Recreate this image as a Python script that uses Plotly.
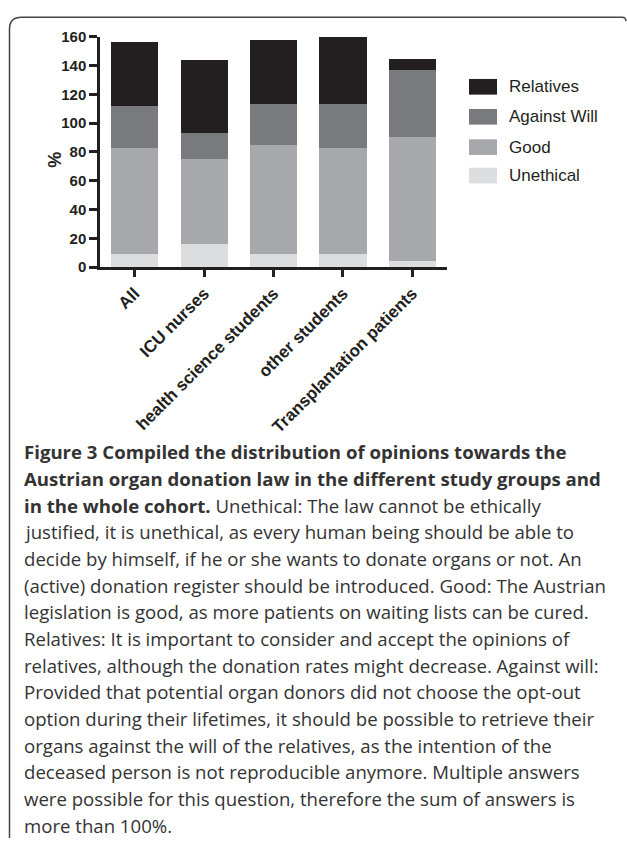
import plotly.graph_objects as go

W, H = 627, 844

# ---- data ----
categories = ["All", "ICU nurses", "health science students", "other students", "Transplantation patients"]
unethical = [9, 16, 9, 9, 4.5]
good = [74, 59, 75.5, 74, 86]
against_will = [28.5, 18, 29, 30, 46.5]
relatives = [44.5, 50.5, 44.5, 46.5, 7.5]
series_names = ["Unethical", "Good", "Against Will", "Relatives"]
series_values = [unethical, good, against_will, relatives]
colors = ["#dcdddf", "#a7a8ab", "#797a7e", "#231f20"]
y_ticks = [0, 20, 40, 60, 80, 100, 120, 140, 160]

caption_lines = [
    "<b>Figure 3 Compiled the distribution of opinions towards the</b>",
    "<b>Austrian organ donation law in the different study groups and</b>",
    "<b>in the whole cohort.</b> Unethical: The law cannot be ethically",
    "justified, it is unethical, as every human being should be able to",
    "decide by himself, if he or she wants to donate organs or not. An",
    "(active) donation register should be introduced. Good: The Austrian",
    "legislation is good, as more patients on waiting lists can be cured.",
    "Relatives: It is important to consider and accept the opinions of",
    "relatives, although the donation rates might decrease. Against will:",
    "Provided that potential organ donors did not choose the opt-out",
    "option during their lifetimes, it should be possible to retrieve their",
    "organs against the will of the relatives, as the intention of the",
    "deceased person is not reproducible anymore. Multiple answers",
    "were possible for this question, therefore the sum of answers is",
    "more than 100%.",
]


def px(x):
    return x / W


def py(y):
    return 1 - y / H


INK = "#231f20"
AX_FONT = "Liberation Sans, Arial, sans-serif"

fig = go.Figure()
for name, vals, col in zip(series_names, series_values, colors):
    fig.add_trace(go.Bar(x=categories, y=vals, name=name, marker=dict(color=col, line=dict(width=0)),
                         showlegend=False))

fig.update_layout(
    width=W, height=H,
    margin=dict(l=0, r=0, t=0, b=0),
    paper_bgcolor="white", plot_bgcolor="white",
    barmode="stack", bargap=0.32,
    xaxis=dict(domain=[px(100), px(447)], range=[-0.5, 4.5], showgrid=False, zeroline=False,
               showline=True, linecolor=INK, linewidth=2.5,
               ticks="outside", ticklen=7, tickwidth=2.5, tickcolor=INK, tickangle=-45,
               tickfont=dict(family=AX_FONT, size=17, color=INK, weight="bold")),
    yaxis=dict(domain=[py(263.4), py(28.2)], range=[0, 160], tickvals=y_ticks, showgrid=False,
               zeroline=False, showline=True, linecolor=INK, linewidth=2.5,
               ticks="outside", ticklen=8, tickwidth=2.5, tickcolor=INK,
               tickfont=dict(family=AX_FONT, size=15, color=INK, weight="bold")),
)

# y-axis title
fig.add_annotation(x=px(43), y=py(143.6), xref="paper", yref="paper", text="<b>%</b>", textangle=-90,
                   showarrow=False, font=dict(family=AX_FONT, size=18, color=INK))

# legend (drawn manually to match large swatches)
legend_order = [3, 2, 1, 0]
legend_centers = [79.4, 110, 141, 170]
for idx, yc in zip(legend_order, legend_centers):
    fig.add_shape(type="rect", xref="paper", yref="paper", x0=px(469), x1=px(497),
                  y0=py(yc - 8), y1=py(yc + 8), fillcolor=colors[idx], line=dict(width=0))
    fig.add_annotation(x=px(507), y=py(yc), xref="paper", yref="paper", text=series_names[idx],
                       xanchor="left", yanchor="middle", showarrow=False,
                       font=dict(family=AX_FONT, size=17, color=INK))

# frame
fig.add_shape(type="path", xref="paper", yref="paper",
              path=(f"M {px(9.5)},{py(846)} L {px(9.5)},{py(20.5)} Q {px(9.5)},{py(8.5)} {px(21.5)},{py(8.5)} "
                    f"L {px(622)},{py(8.5)} Q {px(626)},{py(8.5)} {px(626)},{py(12.5)}"),
              line=dict(color="#444444", width=1.5))

# caption
cap_top = 452
cap_step = 27.2
for i, line in enumerate(caption_lines):
    fig.add_annotation(x=px(22), y=py(cap_top + i * cap_step), xref="paper", yref="paper",
                       text=line, xanchor="left", yanchor="middle", showarrow=False, align="left",
                       font=dict(family="Open Sans, sans-serif", size=18.6, color="#333333"))

page_fix = (
    "var d=document.documentElement,b=document.body;"
    "d.style.margin='0';d.style.padding='0';d.style.overflow='hidden';"
    "b.style.margin='0';b.style.padding='0';b.style.overflow='hidden';"
    "var g=document.getElementById('{plot_id}');"
    "g.style.position='fixed';g.style.left='0px';g.style.top='0px';"
)
fig.write_html("out.html", config={"displayModeBar": False}, post_script=page_fix)
